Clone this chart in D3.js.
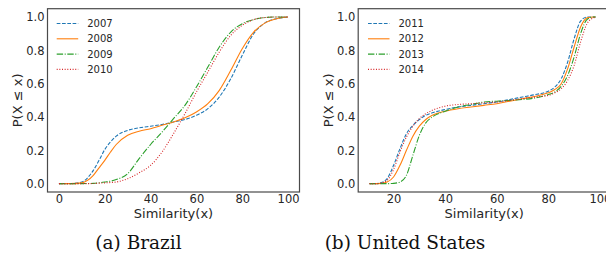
<!DOCTYPE html>
<html>
<head>
<meta charset="utf-8">
<script src="https://cdn.jsdelivr.net/npm/d3@7"></script>
<style>
  html, body { margin: 0; padding: 0; background: #fff; }
  svg { display: block; }
</style>
</head>
<body>
<div id="chart"></div>
<script>
// --- data ---
const brazilX = [0, 5, 10, 12.5, 15, 17.5, 20, 22.5, 25, 30, 35, 40, 45, 50, 55, 60, 65, 70, 75, 80, 85, 90, 95, 100];
const brazilYears = ["2007", "2008", "2009", "2010"];
const brazil2007 = [0, 0, 0.01, 0.035, 0.08, 0.14, 0.205, 0.25, 0.285, 0.32, 0.335, 0.345, 0.355, 0.37, 0.385, 0.41, 0.45, 0.52, 0.63, 0.77, 0.9, 0.965, 0.99, 1];
const brazil2008 = [0, 0, 0.005, 0.02, 0.05, 0.095, 0.14, 0.19, 0.235, 0.29, 0.315, 0.33, 0.35, 0.37, 0.395, 0.43, 0.48, 0.56, 0.68, 0.81, 0.91, 0.965, 0.99, 1];
const brazil2009 = [0, 0, 0, 0.001, 0.002, 0.005, 0.01, 0.015, 0.025, 0.06, 0.15, 0.235, 0.31, 0.39, 0.47, 0.58, 0.7, 0.82, 0.91, 0.96, 0.985, 0.997, 1, 1];
const brazil2010 = [0, 0, 0, 0, 0.001, 0.003, 0.005, 0.007, 0.01, 0.03, 0.065, 0.11, 0.19, 0.3, 0.42, 0.55, 0.67, 0.79, 0.89, 0.95, 0.985, 0.997, 1, 1];

const usX = [10.7, 13, 15, 17.5, 20, 22.5, 25, 27.5, 30, 32.5, 35, 40, 45, 50, 55, 60, 65, 70, 75, 80, 82.5, 85, 87.5, 90, 92.5, 95, 97.5, 98.3];
const usYears = ["2011", "2012", "2013", "2014"];
const us2011 = [0, 0, 0.005, 0.03, 0.11, 0.21, 0.3, 0.35, 0.385, 0.41, 0.425, 0.445, 0.46, 0.47, 0.48, 0.49, 0.505, 0.52, 0.535, 0.555, 0.58, 0.63, 0.73, 0.87, 0.975, 1, 1, 1];
const us2012 = [0, 0, 0.002, 0.01, 0.04, 0.11, 0.2, 0.285, 0.345, 0.385, 0.41, 0.435, 0.45, 0.46, 0.47, 0.48, 0.495, 0.51, 0.525, 0.545, 0.565, 0.6, 0.69, 0.82, 0.94, 0.995, 1, 1];
const us2013 = [0, 0, 0, 0, 0.002, 0.01, 0.05, 0.17, 0.29, 0.365, 0.4, 0.435, 0.46, 0.475, 0.49, 0.495, 0.5, 0.505, 0.515, 0.535, 0.55, 0.585, 0.65, 0.76, 0.9, 0.985, 1, 1];
const us2014 = [0, 0, 0.003, 0.02, 0.085, 0.19, 0.28, 0.345, 0.39, 0.42, 0.44, 0.465, 0.475, 0.48, 0.485, 0.49, 0.5, 0.51, 0.52, 0.53, 0.545, 0.57, 0.62, 0.71, 0.85, 0.96, 0.995, 1];

const yTicks = [0, 0.2, 0.4, 0.6, 0.8, 1.0];
const brazilTicks = [0, 20, 40, 60, 80, 100];
const usTicks = [20, 40, 60, 80, 100];

const colors = ["#1f77b4", "#ff7f0e", "#2ca02c", "#d62728"];
const dashes = ["3.7,1.6", null, "6.4,1.6,1,1.6", "1,1.65"];

const width = 606, height = 264;
const svg = d3.select("#chart").append("svg")
    .attr("width", width).attr("height", height)
    .style("font-family", "'DejaVu Sans', sans-serif");

function drawPanel(opts) {
    const { left, right, xDomain, xs, series, years, ticks, legendX, caption, captionX } = opts;
    const top = 8.7, bottom = 192;

    const x = d3.scaleLinear().domain(xDomain).range([left, right]);
    const y = d3.scaleLinear().domain([-0.05, 1.05]).range([bottom, top]);

    const g = svg.append("g");

    // clip so lines stay inside the frame
    const clipId = "clip" + Math.round(left);
    svg.append("defs").append("clipPath").attr("id", clipId)
        .append("rect").attr("x", left).attr("y", top).attr("width", right - left).attr("height", bottom - top);

    const line = d3.line()
        .x((d, i) => x(xs[i]))
        .y(d => y(d))
        .curve(d3.curveMonotoneX);

    const lines = g.append("g").attr("clip-path", `url(#${clipId})`);
    series.forEach((s, i) => {
        lines.append("path")
            .attr("d", line(s))
            .attr("fill", "none")
            .attr("stroke", colors[i])
            .attr("stroke-width", 1.1)
            .attr("stroke-dasharray", dashes[i]);
    });

    // axes (labels only, no tick marks)
    const yAxis = d3.axisLeft(y).tickValues(yTicks).tickFormat(d3.format(".1f")).tickSize(0).tickPadding(3);
    const ya = g.append("g").attr("transform", `translate(${left},0)`).call(yAxis);
    const xAxis = d3.axisBottom(x).tickValues(ticks).tickFormat(d3.format("d")).tickSize(0).tickPadding(3);
    const xa = g.append("g").attr("transform", `translate(0,${bottom})`).call(xAxis);
    [ya, xa].forEach(a => {
        a.select(".domain").remove();
        a.selectAll("text").attr("font-size", 11.5).attr("fill", "#262626")
            .style("font-family", "'DejaVu Sans', sans-serif");
    });

    // frame
    g.append("rect")
        .attr("x", left).attr("y", top)
        .attr("width", right - left).attr("height", bottom - top)
        .attr("fill", "none").attr("stroke", "#4a4a4a").attr("stroke-width", 1.2);

    // axis titles
    g.append("text")
        .attr("x", left + 126)
        .attr("y", 218)
        .attr("text-anchor", "middle")
        .attr("font-size", 13).attr("fill", "#262626")
        .text("Similarity(x)");
    g.append("text")
        .attr("transform", `translate(${left - 25.5},${(top + bottom) / 2}) rotate(-90)`)
        .attr("text-anchor", "middle")
        .attr("font-size", 13).attr("fill", "#262626")
        .text("P(X ≤ x)");

    // legend
    const lg = g.append("g");
    years.forEach((yr, i) => {
        const ly = 23.5 + i * 15.3;
        lg.append("line")
            .attr("x1", legendX).attr("x2", legendX + 21.5)
            .attr("y1", ly).attr("y2", ly)
            .attr("stroke", colors[i]).attr("stroke-width", 1.1)
            .attr("stroke-dasharray", dashes[i]);
        lg.append("text")
            .attr("x", legendX + 30.5).attr("y", ly + 3.6)
            .attr("font-size", 10).attr("fill", "#262626")
            .text(yr);
    });

    // caption
    svg.append("text")
        .attr("x", captionX).attr("y", 249)
        .attr("text-anchor", "middle")
        .attr("font-size", 18.5)
        .attr("fill", "#111")
        .style("font-family", "'DejaVu Serif', serif")
        .text(caption);
}

drawPanel({
    left: 47.5, right: 299.5, xDomain: [-5, 105], xs: brazilX,
    series: [brazil2007, brazil2008, brazil2009, brazil2010], years: brazilYears,
    ticks: brazilTicks, legendX: 56.7, caption: "(a) Brazil", captionX: 138.5
});

drawPanel({
    left: 358.2, right: 610, xDomain: [6.3, 103.9], xs: usX,
    series: [us2011, us2012, us2013, us2014], years: usYears,
    ticks: usTicks, legendX: 368, caption: "(b) United States", captionX: 405
});
</script>
</body>
</html>
